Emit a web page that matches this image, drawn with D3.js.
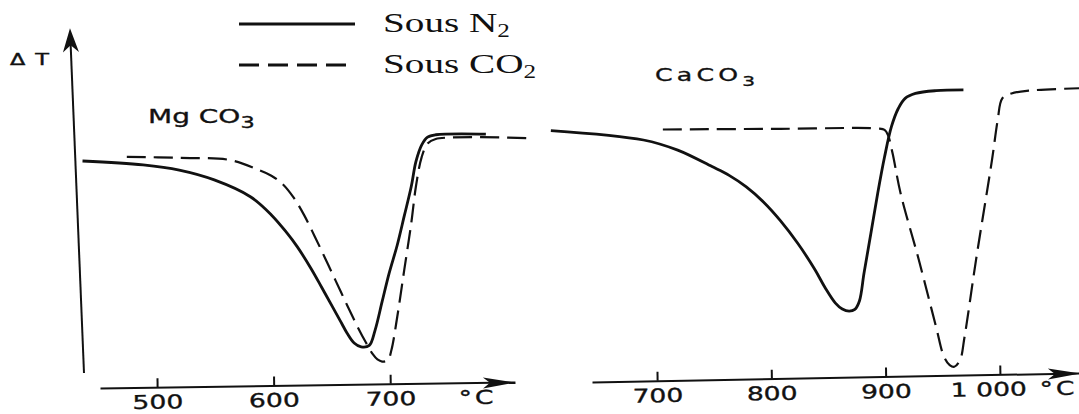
<!DOCTYPE html>
<html>
<head>
<meta charset="utf-8">
<script src="https://cdnjs.cloudflare.com/ajax/libs/d3/7.8.5/d3.min.js"></script>
<style>
  html, body { margin: 0; padding: 0; background: #fff; }
  svg { display: block; }
</style>
</head>
<body>
<svg id="chart" width="1079" height="414"></svg>
<script>
// ---- DTA curves: temperature (°C) and ΔT (arbitrary units, 0–100) ----

// MgCO3 under N2
const mgTempN2  = [436, 488, 519, 549, 580, 598, 611, 620, 632, 641, 650, 657, 663, 669, 675, 682, 687, 693, 699, 706, 712, 718, 722, 727, 732, 739, 782];
const mgDeltaN2 = [64.0, 62.9, 61.4, 58.6, 53.8, 48.6, 43.6, 39.6, 33.3, 28.0, 22.6, 18.4, 14.8, 12.0, 10.9, 11.3, 15.7, 23.8, 31.9, 40.0, 48.3, 56.7, 63.8, 68.6, 70.8, 71.5, 71.7];

// MgCO3 under CO2
const mgTempCO2  = [474, 519, 562, 586, 598, 608, 617, 626, 635, 644, 653, 663, 672, 679, 685, 689, 693, 698, 701, 706, 712, 718, 722, 727, 732, 739, 818];
const mgDeltaCO2 = [65.2, 64.9, 64.3, 61.6, 59.8, 57.3, 53.6, 48.6, 42.6, 36.3, 29.9, 22.8, 16.6, 12.2, 8.8, 7.3, 6.7, 7.1, 10.0, 19.5, 32.9, 46.2, 56.7, 65.2, 69.0, 70.3, 70.5];

// CaCO3 under N2
const caTempN2  = [607, 688, 718, 748, 763, 778, 793, 808, 823, 838, 847, 856, 862, 868, 873, 877, 881, 887, 893, 899, 905, 911, 917, 926, 944, 968];
const caDeltaN2 = [72.7, 70.0, 67.1, 62.4, 59.9, 56.6, 52.3, 46.9, 40.5, 33.0, 27.8, 23.4, 21.7, 21.1, 21.6, 24.0, 31.9, 43.3, 54.8, 65.2, 73.8, 79.0, 81.9, 83.3, 84.1, 84.3];

// CaCO3 under CO2
const caTempCO2  = [705, 808, 893, 899, 902, 906, 913, 929, 944, 951, 956, 960, 965, 969, 979, 993, 998, 1002, 1010, 1025, 1070];
const caDeltaCO2 = [73.0, 73.2, 73.3, 72.9, 71.4, 66.2, 54.8, 35.7, 16.7, 8.1, 5.7, 5.2, 7.1, 13.8, 35.7, 64.3, 75.7, 81.9, 83.3, 84.1, 84.8];

// Axis ticks
const mgTicks = [500, 600, 700];
const mgTickLabels = ["500", "600", "700"];
const caTicks = [700, 800, 900, 1000];
const caTickLabels = ["700", "800", "900", "1 000"];

// Legend
const atmospheres = ["N2", "CO2"];
const legendNames = ["Sous N", "Sous CO"];
const legendSubs = ["2", "2"];

// ---- styles & layout ----
const ink = "#111";
const SX = 1.4;            // horizontal stretch of the lettering
const seriesStyle = {
  N2:  { width: 2.8, dash: null },
  CO2: { width: 2.2, dash: "19,8" }
};

const svg = d3.select("#chart");
const yScale = d3.scaleLinear().domain([0, 100]).range([385, 35]);

const zip = (xs, ys) => xs.map((t, i) => [t, ys[i]]);

const panels = [
  {
    x: d3.scaleLinear().domain([451, 807]).range([100, 515]),
    axisY: 388, tilt: -0.83,
    ticks: mgTicks, tickLabels: mgTickLabels,
    unitX: 496,
    series: { N2: zip(mgTempN2, mgDeltaN2), CO2: zip(mgTempCO2, mgDeltaCO2) }
  },
  {
    x: d3.scaleLinear().domain([643, 1070]).range([592, 1080]),
    axisY: 382, tilt: -1.06,
    ticks: caTicks, tickLabels: caTickLabels,
    unitX: 1077,
    series: { N2: zip(caTempN2, caDeltaN2), CO2: zip(caTempCO2, caDeltaCO2) }
  }
];

panels.forEach(p => {
  // curves
  const line = d3.line()
    .x(d => p.x(d[0]))
    .y(d => yScale(d[1]))
    .curve(d3.curveCatmullRom.alpha(0.5));

  atmospheres.forEach(a => {
    const st = seriesStyle[a];
    svg.append("path")
      .datum(p.series[a])
      .attr("d", line)
      .attr("fill", "none")
      .attr("stroke", ink)
      .attr("stroke-width", st.width)
      .attr("stroke-linejoin", "round")
      .attr("stroke-linecap", "butt")
      .attr("stroke-dasharray", st.dash);
  });

  // temperature axis (ticks point up, labels below)
  const [r0, r1] = p.x.range();
  const g = svg.append("g")
    .attr("transform", `translate(0,${p.axisY}) rotate(${p.tilt},${r0},0)`);

  g.call(d3.axisBottom(p.x)
      .tickValues(p.ticks)
      .tickFormat((d, i) => p.tickLabels[i])
      .tickSizeInner(-9)
      .tickSizeOuter(0)
      .tickPadding(8));

  g.attr("font-family", "'DejaVu Sans', sans-serif").attr("font-size", 19);
  g.select(".domain").attr("stroke", ink).attr("stroke-width", 2);
  g.selectAll(".tick line").attr("stroke", ink).attr("stroke-width", 2);
  g.selectAll(".tick text")
    .attr("fill", ink)
    .attr("stroke", ink)
    .attr("stroke-width", 0.35)
    .attr("transform", `scale(${SX},1)`)
    .attr("dx", d => (String(d).length > 3 ? -8.5 : 0));

  // arrowhead
  g.append("path")
    .attr("d", `M${r1},0.5 L${r1 - 32},-5 L${r1 - 25},0.5 L${r1 - 32},6 Z`)
    .attr("fill", ink);

  // unit
  g.append("text")
    .attr("transform", `translate(${p.unitX},21.5) scale(${SX},1)`)
    .attr("text-anchor", "end")
    .attr("letter-spacing", 2)
    .attr("fill", ink)
    .attr("stroke", ink)
    .attr("stroke-width", 0.35)
    .text("°C");
});

// ΔT axis of the MgCO3 panel
const yAxis = svg.append("g").attr("transform", "rotate(-2.33,84,373)");
yAxis.append("line")
  .attr("x1", 84).attr("y1", 373)
  .attr("x2", 84).attr("y2", 40)
  .attr("stroke", ink).attr("stroke-width", 2);
yAxis.append("path")
  .attr("d", "M84,28 L76,52 L84,45 L92,52 Z")
  .attr("fill", ink);

svg.append("text")
  .attr("transform", `translate(10,65) scale(${SX},1)`)
  .attr("font-family", "'DejaVu Sans', sans-serif")
  .attr("font-size", 16)
  .attr("letter-spacing", 1)
  .attr("fill", ink)
  .attr("stroke", ink)
  .attr("stroke-width", 0.4)
  .text("Δ T");

// compound labels
function compound(x, y, main, sub, size, spacing) {
  const t = svg.append("text")
    .attr("transform", `translate(${x},${y}) scale(${SX},1)`)
    .attr("font-family", "'DejaVu Sans', sans-serif")
    .attr("font-size", size)
    .attr("letter-spacing", spacing)
    .attr("fill", ink)
    .attr("stroke", ink)
    .attr("stroke-width", 0.35);
  t.append("tspan").text(main);
  t.append("tspan").attr("font-size", size * 0.8).attr("dy", 5).text(sub);
}
compound(148, 123, "Mg CO", "3", 20, 0);
compound(655, 81, "CaCO", "3", 18, 3);

// legend
const legend = svg.append("g").attr("transform", "translate(239,24)");
atmospheres.forEach((a, i) => {
  const row = legend.append("g").attr("transform", `translate(0,${i * 41})`);
  row.append("line")
    .attr("x1", 0).attr("x2", 116)
    .attr("y1", 0).attr("y2", 0)
    .attr("stroke", ink)
    .attr("stroke-width", 3)
    .attr("stroke-dasharray", a === "CO2" ? "20,9" : null);
  const t = row.append("text")
    .attr("transform", `translate(144,8) scale(${SX},1)`)
    .attr("font-family", "'Liberation Serif', 'Times New Roman', serif")
    .attr("font-size", 28)
    .attr("fill", ink);
  t.append("tspan").text(legendNames[i]);
  t.append("tspan").attr("font-size", 18).attr("dy", 5).text(legendSubs[i]);
});
</script>
</body>
</html>
